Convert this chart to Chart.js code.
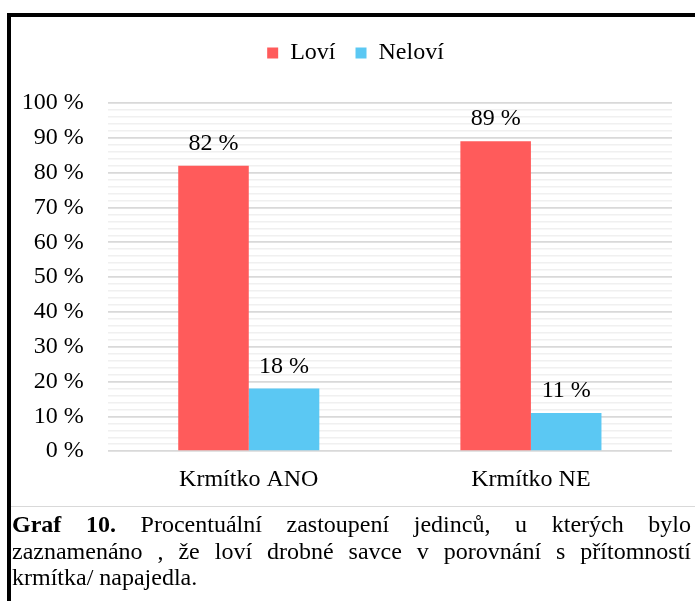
<!DOCTYPE html>
<html>
<head>
<meta charset="utf-8">
<script src="https://cdn.jsdelivr.net/npm/chart.js@4/dist/chart.umd.min.js"></script>
<style>
  html, body { margin: 0; padding: 0; background: #fff; overflow: hidden; }
  body { width: 695px; height: 601px; position: relative; font-family: 'Liberation Serif', serif; }
  #frame { position: absolute; left: 7px; top: 13px; width: 720px; height: 620px;
           border-top: 4px solid #000; border-left: 4px solid #000; }
  #wrap { position: absolute; left: 11px; top: 17px; width: 684px; height: 490px; }
  #sep { position: absolute; left: 11px; top: 506px; width: 684px; height: 0; border-top: 1.5px solid #d9d9d9; }
  #caption { position: absolute; left: 12px; top: 511px; width: 679px; font-size: 24px;
             line-height: 26.5px; text-align: justify; color: #000; }
</style>
</head>
<body>
<div id="frame"></div>
<div id="wrap"><canvas id="myChart"></canvas></div>
<div id="sep"></div>
<div id="caption"><b>Graf 10.</b> Procentuální zastoupení jedinců, u kterých bylo zaznamenáno , že loví drobné savce v porovnání s přítomností krmítka/ napajedla.</div>

<script>
'use strict';

// data
let categories = ['Krmítko ANO', 'Krmítko NE'];
let loviValues = [82, 89];
let neloviValues = [18, 11];
let seriesNames = ['Loví', 'Neloví'];

Chart.defaults.font.family = "'Liberation Serif', serif";
Chart.defaults.font.size = 24;
Chart.defaults.color = '#000';

// value labels above bars
let barLabels = {
  id: 'barLabels',
  afterDatasetsDraw(chart) {
    let ctx = chart.ctx;
    ctx.save();
    ctx.font = "24px 'Liberation Serif'";
    ctx.fillStyle = '#000';
    ctx.textAlign = 'center';
    ctx.textBaseline = 'alphabetic';
    chart.data.datasets.forEach((ds, i) => {
      chart.getDatasetMeta(i).data.forEach((bar, j) => {
        ctx.fillText(ds.data[j] + ' %', bar.x, bar.y - 16);
      });
    });
    ctx.restore();
  }
};

// legend sits a bit right of the full-width centre in the original
let legendNudge = {
  id: 'legendNudge',
  afterLayout(chart) {
    chart.legend.left += 10;
    chart.legend.right += 10;
  }
};

let ctx = document.getElementById('myChart').getContext('2d');
let myChart = new Chart(ctx, { //eslint-disable-line
  type: 'bar',
  data: {
    labels: categories,
    datasets: [{
      label: seriesNames[0],
      data: loviValues,
      backgroundColor: '#ff5b5b',
      categoryPercentage: 0.5,
      barPercentage: 1
    }, {
      label: seriesNames[1],
      data: neloviValues,
      backgroundColor: '#5bc8f3',
      categoryPercentage: 0.5,
      barPercentage: 1
    }]
  },
  options: {
    responsive: true,
    maintainAspectRatio: false,
    animation: false,
    layout: { padding: { left: 8, right: 23, top: 4, bottom: -1 } },
    plugins: {
      legend: {
        position: 'top',
        weight: 1000,
        labels: { boxWidth: 11, boxHeight: 11, padding: 20, font: { size: 24 } }
      },
      // empty title used as a spacer between legend and plot
      title: {
        display: true,
        text: '',
        position: 'top',
        weight: 500,
        font: { size: 10, lineHeight: 1 },
        padding: { top: 9, bottom: 9 }
      },
      tooltip: { enabled: false }
    },
    scales: {
      x: {
        grid: { display: false, drawTicks: false },
        border: { display: false },
        ticks: { padding: 14 }
      },
      y: {
        min: 0,
        max: 100,
        border: { display: false },
        afterFit: s => { s.width = 88.7; },
        grid: {
          drawTicks: false,
          color: c => (c.tick.value % 10 === 0 ? '#d9d9d9' : '#f0f0f0'),
          lineWidth: c => (c.tick.value % 10 === 0 ? 1.75 : 1.5)
        },
        ticks: {
          stepSize: 2,
          maxTicksLimit: 60,
          autoSkip: false,
          padding: 24,
          callback: v => (v % 10 === 0 ? v + ' %' : '')
        }
      }
    }
  },
  plugins: [barLabels, legendNudge]
});
</script>
</body>
</html>
